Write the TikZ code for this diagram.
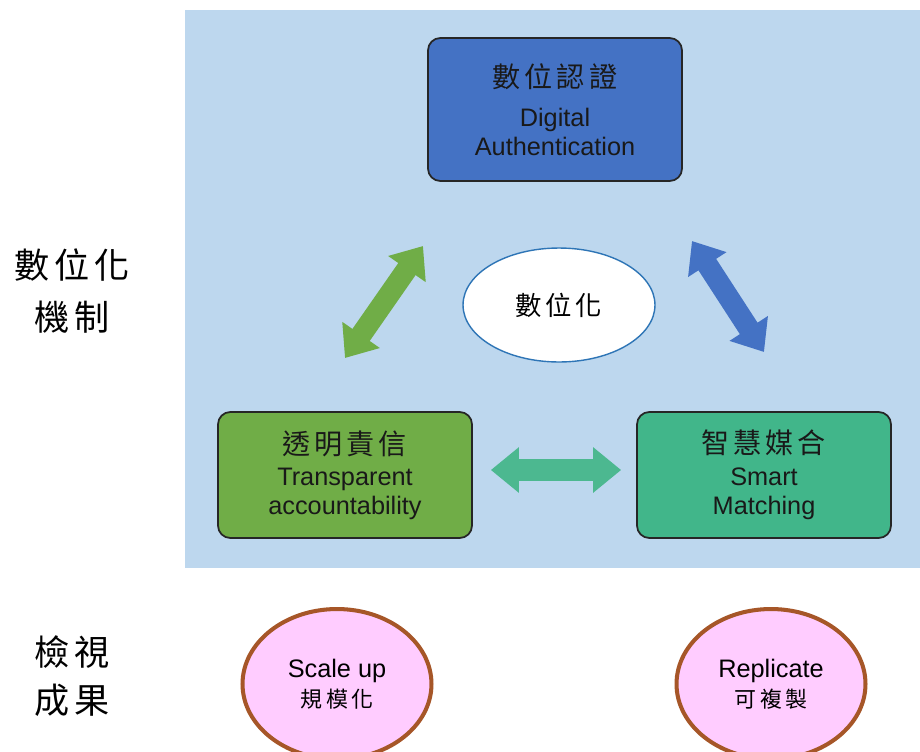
\documentclass[tikz,border=0pt]{standalone}
\usepackage{fontspec}
\setmainfont{Liberation Sans}
\newfontfamily\cjk[LetterSpace=14]{Noto Sans CJK TC}
\usetikzlibrary{shapes.geometric, arrows.meta, positioning}

\definecolor{panelblue}{HTML}{BDD7EE}
\definecolor{authblue}{HTML}{4472C4}
\definecolor{transgreen}{HTML}{70AD47}
\definecolor{smartgreen}{HTML}{41B68A}
\definecolor{linkgreen}{HTML}{4CB890}
\definecolor{ringblue}{HTML}{2E75B6}
\definecolor{resultpink}{HTML}{FFCCFF}
\definecolor{resultbrown}{HTML}{A65628}

\tikzset{
  mechbox/.style={draw=black!85, line width=1pt, rounded corners=7pt,
    minimum width=5.08cm, align=center, text=black!90,
    font=\fontsize{14.4}{16.5}\selectfont},
  resultell/.style={ellipse, draw=resultbrown, line width=2.3pt, fill=resultpink,
    minimum width=3.78cm, minimum height=3cm, inner sep=0pt, align=center,
    font=\fontsize{14.4}{16}\selectfont},
  fatarrow/.style={line width=12pt,
    {Triangle[length=16pt,width=25pt]}-{Triangle[length=16pt,width=25pt]}},
}

\begin{document}
\begin{tikzpicture}[x=0.02cm, y=-0.02cm]
\useasboundingbox (0,0) rectangle (920,751);

% panel behind the mechanism
\fill[panelblue] (185,10) rectangle (920,568);

\node[mechbox, fill=authblue, minimum height=2.86cm] (digital) at (555,109.5)
  {{\cjk\fontsize{16}{18}\selectfont 數位認證}\\[6pt]
   Digital\\ Authentication};
\node[mechbox, fill=transgreen, minimum height=2.52cm] (transp) at (345,475)
  {{\cjk\fontsize{16}{18}\selectfont 透明責信}\\[1pt]
   Transparent\\ accountability};
\node[mechbox, fill=smartgreen, minimum height=2.52cm] (smart) at (764,475)
  {{\cjk\fontsize{16}{18}\selectfont 智慧媒合}\\[2pt]
   Smart\\ Matching};

\node[ellipse, draw=ringblue, line width=0.8pt, fill=white,
  minimum width=3.84cm, minimum height=2.28cm] (core) at (559,305)
  {\cjk\fontsize{15}{17}\selectfont 數位化};

% arrows between the three parts
\coordinate (gl) at (345,358);
\coordinate (gt) at (423,246);
\coordinate (bt) at (692,241);
\coordinate (bl) at (764,352);
\draw[fatarrow, transgreen] (gl) -- (gt);
\draw[fatarrow, authblue] (bt) -- (bl);
\draw[fatarrow, linkgreen]
  ([xshift=0.36cm,yshift=0.1cm]transp.east) -- ([xshift=-0.3cm,yshift=0.1cm]smart.west);

% side labels
\node[align=center, font=\cjk\fontsize{20}{30}\selectfont] (mechlabel) at (72,291)
  {數位化\\機制};
\node[align=center, font=\cjk\fontsize{20}{27}\selectfont] (resultlabel) at (72,676)
  {檢視\\成果};

% results
\node[resultell] (scaleup) at (337,684)
  {Scale up\\[1pt]{\cjk\fontsize{12.5}{15}\selectfont 規模化}};
\node[resultell] (replicate) at (771,684)
  {Replicate\\[1pt]{\cjk\fontsize{12.5}{15}\selectfont 可複製}};

\end{tikzpicture}
\end{document}
